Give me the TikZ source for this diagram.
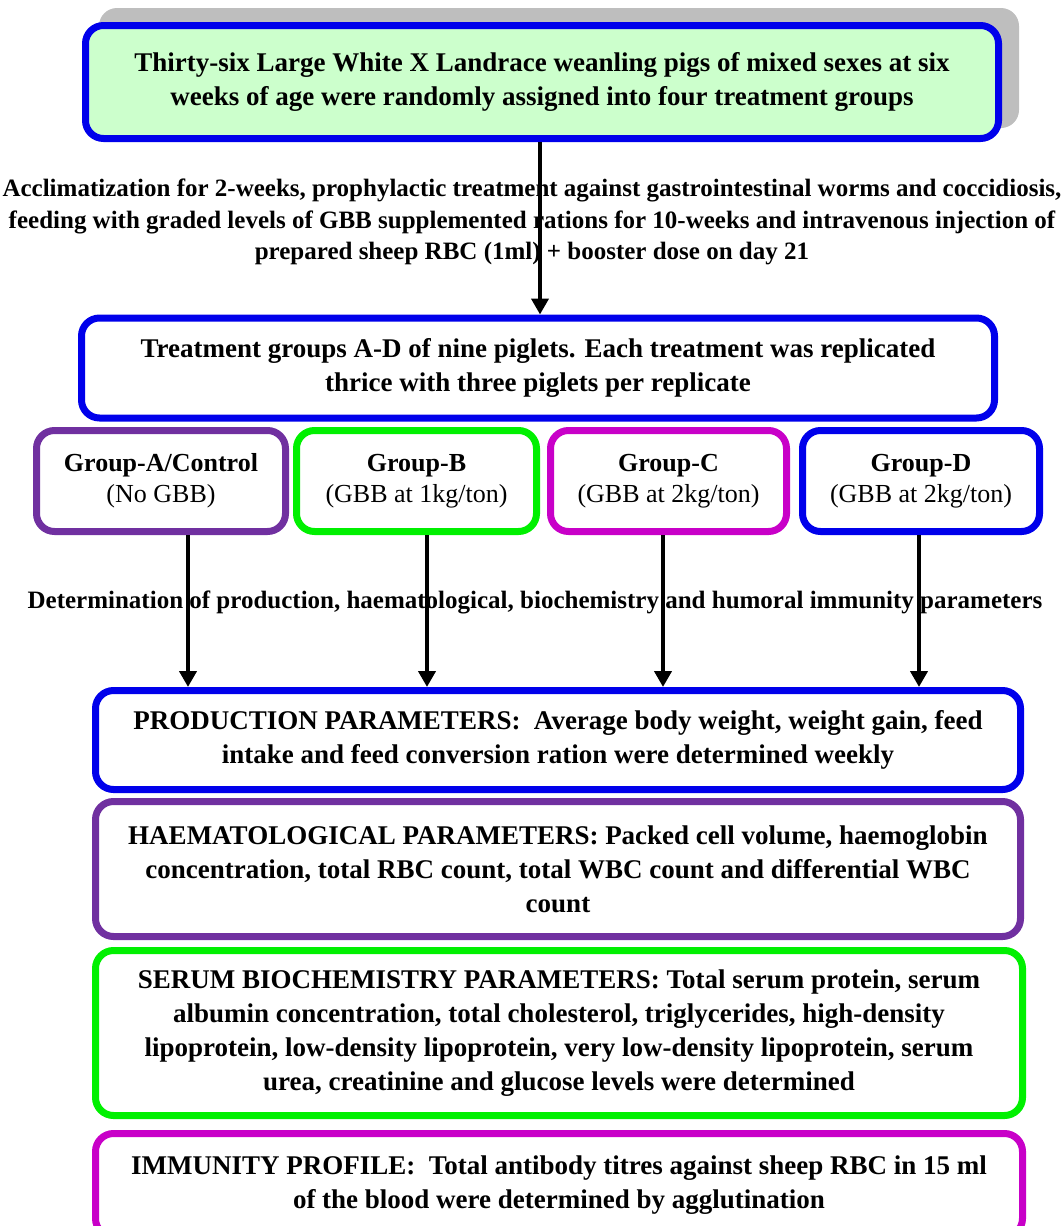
\documentclass[tikz,border=0pt]{standalone}
\usepackage{fontspec}
\setmainfont{Liberation Serif}
\usetikzlibrary{arrows.meta}
\definecolor{cblue}{RGB}{0,0,235}
\definecolor{cpurple}{RGB}{112,48,160}
\definecolor{cgreen}{RGB}{0,240,0}
\definecolor{cmag}{RGB}{200,0,200}
\definecolor{lgreen}{RGB}{204,255,204}
\definecolor{shadowgray}{RGB}{190,190,190}
\newcommand{\bigtxt}{\fontsize{27}{34}\selectfont\bfseries}
\newcommand{\freetxtfont}{\fontsize{25}{31.5}\selectfont\bfseries}
\newcommand{\grptxt}{\fontsize{26}{31}\selectfont}
\tikzset{
  box/.style={draw, line width=7pt, rounded corners=18pt, fill=white, inner sep=0pt, align=center, font=\bigtxt},
  grpbox/.style={box, font=\grptxt, minimum height=101pt},
  freetxt/.style={inner sep=0pt, align=center, font=\freetxtfont},
  arr/.style={line width=4pt, -{Triangle[length=16pt,width=17pt]}}
}
\begin{document}
\begin{tikzpicture}[x=1pt,y=-1pt]
\useasboundingbox (0,0) rectangle (1062,1226);
\clip (0,0) rectangle (1062,1226);
% shadow behind top box
\fill[shadowgray, rounded corners=18pt] (99,8) rectangle (1019,128);
\node[box, fill=lgreen, draw=cblue, minimum width=913pt, minimum height=113pt] (top) at (542,82)
  {Thirty-six Large White X Landrace weanling pigs of mixed sexes at six\\weeks of age were randomly assigned into four treatment groups};
\node[freetxt] (accl) at (532,222)
  {Acclimatization for 2-weeks, prophylactic treatment against gastrointestinal worms and coccidiosis,\\
   feeding with graded levels of GBB supplemented rations for 10-weeks and intravenous injection of\\
   prepared sheep RBC (1ml) + booster dose on day 21};
\node[box, draw=cblue, minimum width=913pt, minimum height=100pt] (treat) at (538,368)
  {Treatment groups A-D of nine piglets. Each treatment was replicated\\thrice with three piglets per replicate};
\coordinate (x0) at (540,0);
\draw[arr] (top.south -| x0) -- (treat.north -| x0);

\node[grpbox, draw=cpurple, minimum width=249pt] (ga) at (161,481) {\textbf{Group-A/Control}\\(No GBB)};
\node[grpbox, draw=cgreen, minimum width=240pt] (gb) at (416.5,481) {\textbf{Group-B}\\(GBB at 1kg/ton)};
\node[grpbox, draw=cmag, minimum width=236pt] (gc) at (668.5,481) {\textbf{Group-C}\\(GBB at 2kg/ton)};
\node[grpbox, draw=cblue, minimum width=237pt] (gd) at (921,481) {\textbf{Group-D}\\(GBB at 2kg/ton)};

\node[freetxt] (det) at (535,602)
  {Determination of production, haematological, biochemistry and humoral immunity parameters};

\node[box, draw=cblue, minimum width=925pt, minimum height=99pt] (prod) at (558,740)
  {PRODUCTION PARAMETERS:\ \ Average body weight, weight gain, feed\\intake and feed conversion ration were determined weekly};
\node[box, draw=cpurple, minimum width=925pt, minimum height=135pt] (haem) at (558,869)
  {HAEMATOLOGICAL PARAMETERS: Packed cell volume, haemoglobin\\concentration, total RBC count, total WBC count and differential WBC\\count};
\node[box, draw=cgreen, minimum width=927pt, minimum height=165pt] (serum) at (559,1033)
  {SERUM BIOCHEMISTRY PARAMETERS: Total serum protein, serum\\albumin concentration, total cholesterol, triglycerides, high-density\\lipoprotein, low-density lipoprotein, very low-density lipoprotein, serum\\urea, creatinine and glucose levels were determined};
\node[box, draw=cmag, minimum width=927pt, minimum height=103pt] (imm) at (559,1185)
  {IMMUNITY PROFILE:\ \ Total antibody titres against sheep RBC in 15 ml\\of the blood were determined by agglutination};

\coordinate (xa) at (188,0);
\coordinate (xb) at (427,0);
\coordinate (xc) at (663,0);
\coordinate (xd) at (919,0);
\draw[arr] (ga.south -| xa) -- (prod.north -| xa);
\draw[arr] (gb.south -| xb) -- (prod.north -| xb);
\draw[arr] (gc.south -| xc) -- (prod.north -| xc);
\draw[arr] (gd.south -| xd) -- (prod.north -| xd);
\end{tikzpicture}
\end{document}
